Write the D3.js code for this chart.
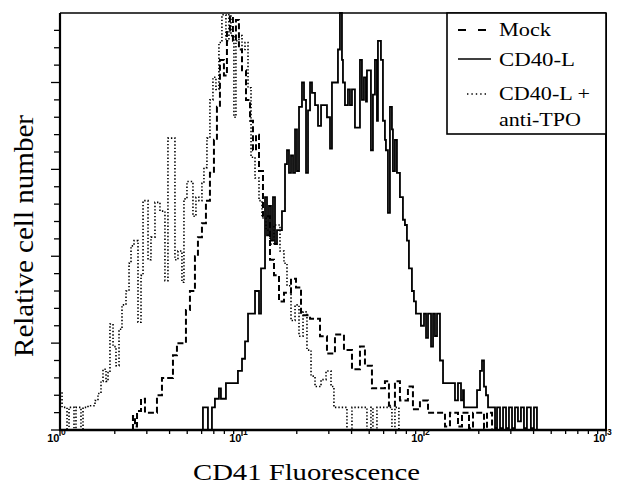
<!DOCTYPE html>
<html>
<head>
<meta charset="utf-8">
<script src="https://cdn.jsdelivr.net/npm/d3@7"></script>
<style>
  html, body { margin: 0; padding: 0; background: #fff; }
  svg { display: block; }
</style>
</head>
<body>
<svg id="chart" width="617" height="484"></svg>
<script>
// CD41 fluorescence histograms, step data: bin start (fluorescence) and cell count
var tpoX = [1.00, 1.026, 1.093, 1.121, 1.194, 1.224, 1.304, 1.338, 1.425, 1.557, 1.617, 1.680, 1.723, 1.790, 1.836,
    1.882, 1.956, 2.031, 2.110, 2.191, 2.305, 2.395, 2.456, 2.551, 2.683, 2.787, 2.859, 3.045, 3.161, 3.325,
    3.542, 3.773, 3.919, 4.282, 4.448, 4.678, 4.798, 4.984, 5.377, 5.584, 5.800, 6.025, 6.179, 6.418, 6.666,
    6.924, 7.192, 7.470, 7.758, 8.161, 8.477, 8.694, 9.031, 9.261, 9.620, 10.00, 10.39, 10.79, 11.21, 11.79,
    12.40, 12.88, 13.55, 14.25, 14.99, 16.17, 17.01, 17.67, 18.59, 19.56, 20.57, 21.64, 22.75, 23.95, 25.19,
    27.18, 28.95, 30.84, 32.0, 37.73, 40.20, 48.59, 51.11, 52.42, 55.14, 66.66, 69.24, 72.8];
var tpoY = [22, 13, 0, 13, 0, 13, 0, 13, 14, 17, 21, 28, 35, 28, 33,
    61, 48, 37, 58, 72, 80, 96, 106, 109, 62, 89, 132, 98, 111, 131,
    126, 86, 168, 98, 103, 85, 133, 143, 123, 134, 132, 142, 151, 168, 190,
    203, 196, 223, 239, 224, 239, 227, 180, 224, 227, 219, 223, 197, 157, 145,
    132, 122, 115, 107, 118, 103, 96, 83, 63, 72, 54, 68, 46, 31, 25,
    29, 34, 25, 13, 0, 13, 0, 13, 0, 13, 0, 13, 0];

var mockX = [2.517, 2.582, 2.650, 2.787, 2.930, 3.410, 3.633, 4.175, 4.391, 4.921, 5.176, 5.514, 5.727, 6.025, 6.337,
    6.666, 7.012, 7.283, 7.565, 7.957, 8.265, 8.585, 8.917, 9.261, 9.620, 10.00, 10.52, 11.07, 11.49, 11.94,
    12.40, 13.04, 14.25, 14.99, 15.97, 17.01, 18.59, 19.80, 21.10, 23.65, 26.83, 29.30, 32.42, 36.33, 40.20,
    44.48, 47.38, 51.76, 61.0, 64.18, 69.24, 73.76, 81.61, 86.94, 95.0, 105.2, 130.4, 138.9, 153.7, 161.7,
    176.7, 185.9, 213.6, 221.9, 236.5];
var mockY = [8, 2, 11, 18, 10, 20, 30, 43, 50, 69, 80, 100, 111, 119, 132,
    148, 167, 186, 213, 204, 230, 238, 224, 236, 219, 207, 190, 178, 161, 170,
    149, 123, 98, 89, 74, 79, 87, 82, 66, 64, 54, 44, 55, 46, 35,
    48, 37, 24, 28, 14, 28, 17, 25, 12, 17, 10, 2, 10, 2, 10,
    1, 10, 1, 10, 0];

var cd40X = [6.101, 6.500, 6.837, 7.101, 7.470, 7.661, 8.161, 9.499, 10.00, 10.39,
    10.79, 11.79, 12.40, 12.72, 13.38, 13.72, 14.07, 14.43, 14.80, 15.18,
    15.57, 16.58, 17.23, 17.67, 18.12, 18.59, 19.07, 19.56, 20.05, 20.57,
    21.36, 21.91, 22.48, 23.05, 23.65, 24.24, 25.19, 26.16, 27.18, 29.30,
    30.45, 31.21, 33.67, 34.53, 35.42, 35.87, 36.79, 38.21, 39.19, 40.20,
    41.75, 44.48, 45.61, 46.78, 47.98, 48.59, 51.11, 52.42, 53.77, 55.14,
    55.84, 58.00, 59.49, 61.01, 61.79, 63.37, 65.00, 66.66, 67.51, 69.24,
    71.01, 73.76, 76.61, 78.58, 80.59, 82.65, 85.85, 88.05, 90.31, 96.20,
    100.0, 102.6, 105.2, 109.3, 112.1, 114.9, 117.9, 122.4, 127.2, 148.0,
    153.7, 159.7, 163.8, 165.8, 195.6, 203.1, 208.3, 213.6, 219.1, 224.8,
    245.6, 251.9, 261.6, 271.8, 282.3, 293.0, 304.5, 316.1, 328.3, 341.0,
    354.2, 367.8, 386.6, 402.0, 417.5];
var cd40Y = [13, 0, 13, 18, 24, 18, 27, 34, 41, 51,
    67, 80, 67, 93, 134, 112, 129, 109, 134, 107,
    115, 126, 153, 161, 148, 158, 148, 173, 149, 186,
    200, 190, 148, 184, 200, 194, 187, 175, 187, 180,
    162, 200, 219, 240, 213, 200, 187, 196, 187, 196,
    174, 213, 190, 203, 189, 207, 161, 193, 213, 178,
    224, 213, 178, 167, 161, 125, 186, 173, 149, 167,
    148, 134, 121, 118, 109, 93, 80, 74, 67, 60,
    67, 53, 67, 48, 67, 54, 67, 40, 27, 17,
    27, 17, 23, 13, 23, 34, 40, 25, 20, 13,
    1, 13, 1, 13, 1, 13, 1, 13, 5, 13,
    1, 13, 1, 13, 0];

var decades = [1, 10, 100, 1000];
var exponents = ["0", "1", "2", "3"];
var legendNames = ["Mock", "CD40-L", "CD40-L +", "anti-TPO"];

var serif = "'Liberation Serif'";
var sans = "'Liberation Sans'";

var svg = d3.select("#chart");
var plotLeft = 60, plotRight = 606, plotTop = 13, plotBottom = 430;

var x = d3.scaleLog().domain([1, 1000]).range([plotLeft, plotRight]);
var y = d3.scaleLinear().domain([0, 240]).range([plotBottom, plotTop]);

var series = [
    {xs: mockX, ys: mockY, dash: "6,3", width: 2},
    {xs: tpoX, ys: tpoY, dash: "1.4,2", width: 1.6},
    {xs: cd40X, ys: cd40Y, dash: null, width: 1.8}
];

var line = d3.line()
    .x(function(d) { return x(d[0]); })
    .y(function(d) { return y(d[1]); })
    .curve(d3.curveStepAfter);

series.forEach(function(s) {
    var pts = [[s.xs[0], 0]].concat(d3.zip(s.xs, s.ys));
    svg.append("path")
        .attr("d", line(pts))
        .attr("fill", "none")
        .attr("stroke", "#000")
        .attr("stroke-width", s.width)
        .attr("stroke-dasharray", s.dash);
});

// frame
svg.append("line").attr("x1", plotLeft).attr("x2", plotRight).attr("y1", plotTop).attr("y2", plotTop)
    .attr("stroke", "#000").attr("stroke-width", 1.3);
svg.append("line").attr("x1", plotRight).attr("x2", plotRight).attr("y1", plotTop).attr("y2", plotBottom)
    .attr("stroke", "#000").attr("stroke-width", 2);
svg.append("line").attr("x1", plotLeft).attr("x2", plotLeft).attr("y1", plotTop).attr("y2", plotBottom + 1)
    .attr("stroke", "#000").attr("stroke-width", 2.2);
svg.append("line").attr("x1", plotLeft - 1).attr("x2", plotRight + 1).attr("y1", plotBottom).attr("y2", plotBottom)
    .attr("stroke", "#000").attr("stroke-width", 2.4);

// y ticks (no labels)
var yTicks = d3.range(0, 240, 10);
svg.selectAll(".ytick").data(yTicks).enter().append("line")
    .attr("class", "ytick")
    .attr("x1", function(d) { return d % 50 === 0 ? plotLeft - 9 : plotLeft - 6; })
    .attr("x2", plotLeft)
    .attr("y1", function(d) { return y(d); })
    .attr("y2", function(d) { return y(d); })
    .attr("stroke", "#000").attr("stroke-width", 1.3);

// x ticks, log minor ticks
var xTicks = [];
decades.slice(0, 3).forEach(function(d) {
    for (var m = 1; m <= 9; m++) xTicks.push(m * d);
});
xTicks.push(1000);
svg.selectAll(".xtick").data(xTicks).enter().append("line")
    .attr("class", "xtick")
    .attr("x1", function(d) { return x(d); })
    .attr("x2", function(d) { return x(d); })
    .attr("y1", plotBottom)
    .attr("y2", function(d) { return decades.indexOf(d) >= 0 ? plotBottom + 6 : plotBottom + 4; })
    .attr("stroke", "#000").attr("stroke-width", 1.3);

decades.forEach(function(d, i) {
    svg.append("text")
        .attr("x", x(d) - 0.5).attr("y", 442)
        .attr("text-anchor", "end")
        .style("font-family", sans).style("font-size", "11px").style("font-weight", "bold")
        .text("10");
    svg.append("text")
        .attr("x", x(d) + 1).attr("y", 435)
        .style("font-family", sans).style("font-size", "8.5px").style("font-weight", "bold")
        .text(exponents[i]);
});

// axis titles
svg.append("text")
    .attr("x", 306.5).attr("y", 480)
    .attr("text-anchor", "middle")
    .style("font-family", serif).style("font-size", "24px")
    .attr("textLength", 227).attr("lengthAdjust", "spacingAndGlyphs")
    .text("CD41 Fluorescence");

svg.append("text")
    .attr("transform", "translate(33,236) rotate(-90)")
    .attr("text-anchor", "middle")
    .style("font-family", serif).style("font-size", "27px")
    .attr("textLength", 242).attr("lengthAdjust", "spacingAndGlyphs")
    .text("Relative cell number");

// legend
var lg = svg.append("g");
lg.append("rect")
    .attr("x", 447).attr("y", plotTop).attr("width", plotRight - 447).attr("height", 121)
    .attr("fill", "#fff").attr("stroke", "#000").attr("stroke-width", 1.6);
lg.append("line").attr("x1", 458).attr("x2", 488).attr("y1", 30).attr("y2", 30)
    .attr("stroke", "#000").attr("stroke-width", 2).attr("stroke-dasharray", "8,12");
lg.append("line").attr("x1", 458).attr("x2", 491).attr("y1", 59).attr("y2", 59)
    .attr("stroke", "#000").attr("stroke-width", 1.7);
lg.append("line").attr("x1", 467).attr("x2", 488).attr("y1", 94).attr("y2", 94)
    .attr("stroke", "#000").attr("stroke-width", 1.5).attr("stroke-dasharray", "1.4,3");

var legendY = [36, 66, 100, 126];
var legendW = [52, 76, 91, 82];
legendNames.forEach(function(name, i) {
    lg.append("text")
        .attr("x", 499).attr("y", legendY[i])
        .style("font-family", serif).style("font-size", "19px")
        .attr("textLength", legendW[i]).attr("lengthAdjust", "spacingAndGlyphs")
        .text(name);
});
</script>
</body>
</html>
